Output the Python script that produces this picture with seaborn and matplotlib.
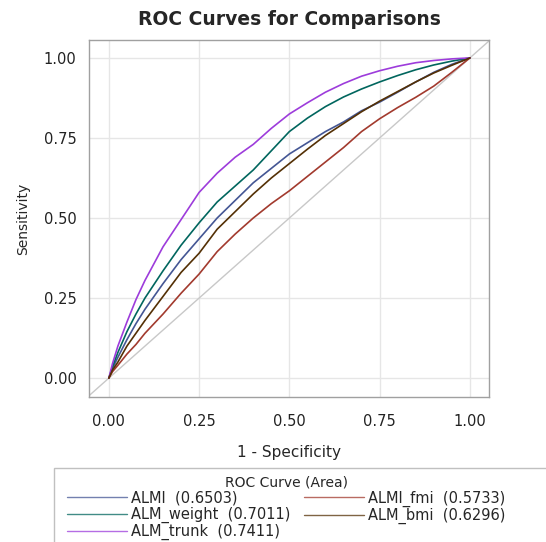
import matplotlib
matplotlib.use("Agg")
import matplotlib.pyplot as plt
from matplotlib.patches import Rectangle
import pandas as pd
import seaborn as sns

# ---- data ----
fpr = [0.0, 0.01, 0.025, 0.05, 0.075, 0.10, 0.15, 0.20, 0.25, 0.30, 0.35, 0.40, 0.45,
       0.50, 0.55, 0.60, 0.65, 0.70, 0.75, 0.80, 0.85, 0.90, 0.95, 1.0]

tpr_almi = [0.0, 0.03, 0.065, 0.12, 0.17, 0.215, 0.295, 0.37, 0.435, 0.50, 0.555, 0.61, 0.655,
            0.70, 0.735, 0.77, 0.80, 0.835, 0.862, 0.893, 0.925, 0.955, 0.98, 1.0]
tpr_weight = [0.0, 0.035, 0.08, 0.145, 0.20, 0.25, 0.335, 0.415, 0.485, 0.55, 0.60, 0.65, 0.71,
              0.77, 0.812, 0.848, 0.878, 0.903, 0.925, 0.945, 0.963, 0.978, 0.99, 1.0]
tpr_trunk = [0.0, 0.045, 0.10, 0.175, 0.245, 0.305, 0.41, 0.495, 0.58, 0.64, 0.69, 0.73, 0.78,
             0.825, 0.86, 0.893, 0.92, 0.943, 0.96, 0.974, 0.985, 0.992, 0.997, 1.0]
tpr_fmi = [0.0, 0.02, 0.04, 0.075, 0.105, 0.14, 0.20, 0.265, 0.325, 0.395, 0.45, 0.50, 0.545,
           0.585, 0.63, 0.675, 0.72, 0.77, 0.81, 0.845, 0.877, 0.912, 0.955, 1.0]
tpr_bmi = [0.0, 0.025, 0.05, 0.10, 0.14, 0.18, 0.255, 0.33, 0.39, 0.465, 0.52, 0.575, 0.625,
           0.67, 0.715, 0.758, 0.795, 0.832, 0.865, 0.895, 0.925, 0.953, 0.977, 1.0]

models = ["ALMI  (0.6503)", "ALM_weight  (0.7011)", "ALM_trunk  (0.7411)",
          "ALMI_fmi  (0.5733)", "ALM_bmi  (0.6296)"]
colors = ["#445694", "#01665E", "#9D3CDB", "#A23A2E", "#543005"]
ticks = [0.0, 0.25, 0.5, 0.75, 1.0]

series = [tpr_almi, tpr_weight, tpr_trunk, tpr_fmi, tpr_bmi]
df = pd.concat(
    [pd.DataFrame({"fpr": fpr, "tpr": t, "model": m}) for m, t in zip(models, series)],
    ignore_index=True,
)

# ---- plot ----
sns.set_style("white")
plt.rcParams["font.family"] = ["DejaVu Sans"]

fig = plt.figure(figsize=(5.46, 5.42), dpi=100)
ax = fig.add_axes([89 / 546, 1 - 397 / 542, 400 / 546, 357 / 542])

ax.axline((0, 0), (1, 1), color="#c8c8c8", lw=1, zorder=1)

sns.lineplot(data=df, x="fpr", y="tpr", hue="model", hue_order=models,
             palette=colors, estimator=None, sort=False, lw=1.2, ax=ax)

ax.set_xlim(-0.055, 1.053)
ax.set_ylim(-0.059, 1.056)
ax.set_xticks(ticks)
ax.set_yticks(ticks)
ax.set_xticklabels([f"{t:.2f}" for t in ticks])
ax.set_yticklabels([f"{t:.2f}" for t in ticks])
ax.grid(True, color="#e6e6e6", lw=1)
ax.set_axisbelow(True)
ax.tick_params(axis="both", length=5, width=1, color="#a0a0a0",
               labelsize=10.5, labelcolor="#222222")
ax.tick_params(axis="x", pad=7)
ax.tick_params(axis="y", pad=4)
for s in ax.spines.values():
    s.set_color("#a0a0a0")
    s.set_linewidth(1)

ax.set_xlabel("1 - Specificity", fontsize=11, labelpad=12)
ax.set_ylabel("Sensitivity", fontsize=10, labelpad=10)
ax.set_title("ROC Curves for Comparisons", fontsize=13.5, fontweight="bold", pad=11)

handles, labels = ax.get_legend_handles_labels()
ax.get_legend().remove()
for h in handles:
    h.set_linewidth(1)
    h.set_alpha(0.75)

fig.patches.append(Rectangle((54 / 546, -0.02), 1.0, (542 - 468) / 542 + 0.02,
                             transform=fig.transFigure, fill=False,
                             edgecolor="#c0c0c0", lw=1))
leg = fig.legend(handles, labels, loc="upper left", ncol=2,
                 bbox_to_anchor=(60 / 546, 1 - 468 / 542),
                 frameon=False, borderpad=0, fontsize=10.5,
                 title="ROC Curve (Area)", title_fontsize=10,
                 handlelength=4.1, handletextpad=0.3, labelspacing=0.08,
                 columnspacing=0.9)

fig.savefig("out.png", dpi=100)
